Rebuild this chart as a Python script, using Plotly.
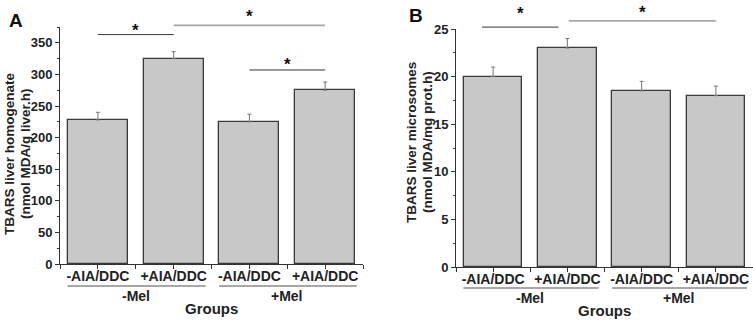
import plotly.graph_objects as go

# ---------------- data ----------------
categories = ["-AIA/DDC", "+AIA/DDC", "-AIA/DDC", "+AIA/DDC"]
groups = ["-Mel", "+Mel"]
homog_values = [228, 325, 225, 275]
homog_errors = [12, 11, 12, 13]
micro_values = [20, 23, 18.5, 18]
micro_errors = [1.0, 1.0, 1.0, 1.0]
# significance brackets: (from category, to category, line height, star height) in data units
homog_sig = [(0, 1, 363, 378), (1, 3, 377.5, 399), (2, 3, 307, 324)]
micro_sig = [(-0.15, 0.88, 25.2, 27.2), (1.02, 3.0, 25.85, 27.3)]

A_YMAX = 375
B_YMAX = 25

W, H = 753, 322
FONT = "Liberation Sans, Arial, sans-serif"
BAR_FILL = "#c8c8c8"
BAR_LINE = "#3a3a3a"
AX = "#333333"

# plot-area pixel boxes (left, right, top, bottom)
A_BOX = (60, 363, 27, 264)
B_BOX = (456, 753, 29, 267)


def dom_x(box):
    return [box[0] / W, box[1] / W]


def dom_y(box):
    return [(H - box[3]) / H, (H - box[2]) / H]


def px(box, cat):
    d = dom_x(box)
    return d[0] + (cat + 0.5) / len(categories) * (d[1] - d[0])


def py(box, val, ymax):
    d = dom_y(box)
    return d[0] + val / ymax * (d[1] - d[0])


def py_off(box, pixels_below):
    return (H - box[3] - pixels_below) / H


xpos = list(range(len(categories)))

fig = go.Figure()
for vals, errs, xa, ya in [(homog_values, homog_errors, "x", "y"),
                           (micro_values, micro_errors, "x2", "y2")]:
    fig.add_trace(go.Bar(
        x=xpos, y=vals, width=0.79,
        marker=dict(color=BAR_FILL, line=dict(color=BAR_LINE, width=1.3)),
        error_y=dict(type="data", array=errs, arrayminus=[0] * len(errs), symmetric=False,
                     color="#777777", thickness=1, width=2),
        xaxis=xa, yaxis=ya, showlegend=False, hoverinfo="skip"))

tickvals = [i * 0.5 - 0.5 for i in range(2 * len(categories) + 1)]
ticktext = ["" if (v % 1) else categories[int(v)] for v in tickvals]

xtickfont = dict(family=FONT, size=14, color="#222222", weight="bold")
ytickfont = dict(family=FONT, size=13, color="#222222", weight="bold")
common_x = dict(range=[-0.5, 3.5], tickvals=tickvals, ticktext=ticktext, ticks="outside",
                ticklen=4, tickcolor=AX, showline=True, linecolor=AX, linewidth=1,
                showgrid=False, zeroline=False, tickfont=xtickfont, automargin=False,
                ticklabelstandoff=-5)
common_y = dict(ticks="outside", ticklen=4, tickcolor=AX, showline=True, linecolor=AX,
                linewidth=1, showgrid=False, zeroline=False, tickfont=ytickfont, automargin=False)

fig.update_layout(
    template="none",
    width=W, height=H, margin=dict(l=0, r=0, t=0, b=0, pad=0),
    paper_bgcolor="white", plot_bgcolor="white", bargap=0, showlegend=False,
    xaxis=dict(domain=dom_x(A_BOX), anchor="y", **common_x),
    yaxis=dict(domain=dom_y(A_BOX), anchor="x", range=[0, A_YMAX], dtick=50,
               minor=dict(ticks="outside", ticklen=2, dtick=25, tickcolor=AX), **common_y),
    xaxis2=dict(domain=dom_x(B_BOX), anchor="y2", **common_x),
    yaxis2=dict(domain=dom_y(B_BOX), anchor="x2", range=[0, B_YMAX], dtick=5,
                minor=dict(ticks="outside", ticklen=2, dtick=2.5, tickcolor=AX), **common_y),
)

shapes = []
annots = []


def add_sig(sigs, box, ymax, dark_idx):
    for i, (a, b, h, s) in enumerate(sigs):
        dark = i in dark_idx
        col = "#333333" if dark else "#a8a8a8"
        lw = 1 if dark else 1.6
        yy = py(box, h, ymax)
        shapes.append(dict(type="line", xref="paper", yref="paper", x0=px(box, a), x1=px(box, b),
                           y0=yy, y1=yy, line=dict(color=col, width=lw)))
        annots.append(dict(xref="paper", yref="paper", x=px(box, (a + b) / 2), y=py(box, s, ymax),
                           text="*", showarrow=False, xanchor="center", yanchor="middle", yshift=-5,
                           font=dict(family=FONT, size=17, color="#111", weight="bold")))


add_sig(homog_sig, A_BOX, A_YMAX, {0, 2})
add_sig(micro_sig, B_BOX, B_YMAX, {0})


def add_groups(box, under_px, grp_px, groups_px):
    for g, (a, b) in enumerate([(0, 1), (2, 3)]):
        uy = py_off(box, under_px)
        shapes.append(dict(type="line", xref="paper", yref="paper", x0=px(box, a - 0.4),
                           x1=px(box, b + 0.42), y0=uy, y1=uy,
                           line=dict(color="#8a8a8a", width=1.3)))
        annots.append(dict(xref="paper", yref="paper", x=px(box, (a + b) / 2),
                           y=py_off(box, grp_px), text=groups[g], showarrow=False,
                           xanchor="center", yanchor="middle",
                           font=dict(family=FONT, size=14, color="#222", weight="bold")))
    annots.append(dict(xref="paper", yref="paper", x=px(box, 1.5), y=py_off(box, groups_px),
                       text="Groups", showarrow=False, xanchor="center", yanchor="middle",
                       font=dict(family=FONT, size=15, color="#222", weight="bold")))


add_groups(A_BOX, 22, 32, 44)
add_groups(B_BOX, 21, 31, 43)


def add_ytitle(lines, xs, ycenter):
    for t, xx in zip(lines, xs):
        annots.append(dict(xref="paper", yref="paper", x=xx / W, y=(H - ycenter) / H,
                           text=t, textangle=-90, showarrow=False,
                           xanchor="center", yanchor="middle",
                           font=dict(family=FONT, size=13.5, color="#222", weight="bold")))


add_ytitle(["TBARS liver homogenate", "(nmol MDA/g liver.h)"], [9, 25], 154)
add_ytitle(["TBARS liver microsomes", "(nmol MDA/mg prot.h)"], [411, 427], 142)

# panel letters
annots.append(dict(xref="paper", yref="paper", x=16 / W, y=(H - 21) / H, text="A",
                   showarrow=False, xanchor="center", yanchor="middle",
                   font=dict(family=FONT, size=19, color="#111", weight="bold")))
annots.append(dict(xref="paper", yref="paper", x=416 / W, y=(H - 16) / H, text="B",
                   showarrow=False, xanchor="center", yanchor="middle",
                   font=dict(family=FONT, size=19, color="#111", weight="bold")))

fig.update_layout(shapes=shapes, annotations=annots)
fig.write_html("out.html")
